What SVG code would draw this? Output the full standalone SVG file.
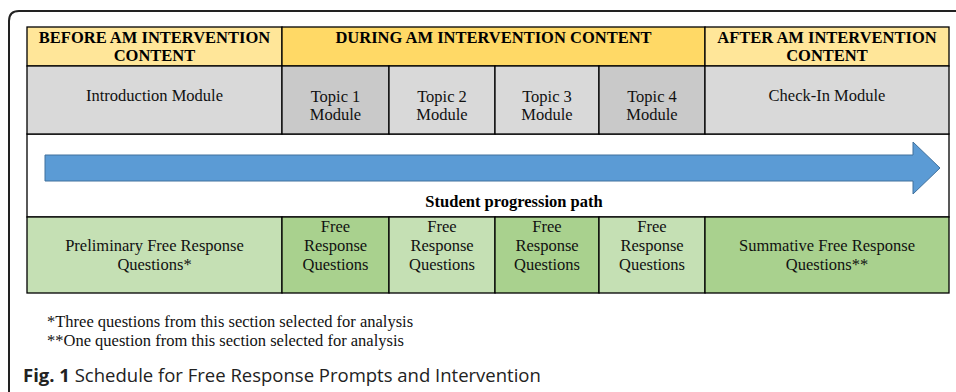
<svg xmlns="http://www.w3.org/2000/svg" width="956" height="392" viewBox="0 0 956 392">
<style>
.cell{stroke:#000;stroke-width:1.3}
.hy1{fill:#FFE699}
.hy2{fill:#FFD966}
.g1{fill:#D9D9D9}
.g2{fill:#C9C9C9}
.gr1{fill:#C5E0B4}
.gr2{fill:#A9D18E}
.h{font-family:"Liberation Serif","Times New Roman",serif;font-weight:bold;font-size:16.5px;fill:#000;text-anchor:middle}
.t{font-family:"Liberation Serif","Times New Roman",serif;font-size:16.5px;fill:#111;text-anchor:middle}
.fn{font-family:"Liberation Serif","Times New Roman",serif;font-size:16.5px;fill:#111}
.cap{font-family:"Open Sans","Noto Sans",sans-serif;font-size:18.5px;fill:#222}
</style>
<rect width="956" height="392" fill="#fff"/>
<path d="M9,392 V21 Q9,11 19,11 H956" fill="none" stroke="#222" stroke-width="2"/>
<g id="middle-band"><rect x="27" y="134" width="922" height="83" fill="#fff" class="cell"/></g>
<g id="hdr-before"><rect x="27" y="27" width="255" height="39" class="cell hy1"/><text class="h" x="154.5" y="43">BEFORE AM INTERVENTION</text><text class="h" x="154.5" y="61">CONTENT</text></g>
<g id="hdr-during"><rect x="282" y="27" width="423" height="39" class="cell hy2"/><text class="h" x="493.5" y="43">DURING AM INTERVENTION CONTENT</text></g>
<g id="hdr-after"><rect x="705" y="27" width="244" height="39" class="cell hy1"/><text class="h" x="827" y="43">AFTER AM INTERVENTION</text><text class="h" x="827" y="61">CONTENT</text></g>
<g id="mod-intro"><rect x="27" y="66" width="255" height="68" class="cell g1"/><text class="t" x="154.5" y="101">Introduction Module</text></g>
<g id="mod-topic1"><rect x="282" y="66" width="107" height="68" class="cell g2"/><text class="t" x="335.5" y="102">Topic 1</text><text class="t" x="335.5" y="120">Module</text></g>
<g id="mod-topic2"><rect x="389" y="66" width="106" height="68" class="cell g1"/><text class="t" x="442" y="102">Topic 2</text><text class="t" x="442" y="120">Module</text></g>
<g id="mod-topic3"><rect x="495" y="66" width="104" height="68" class="cell g1"/><text class="t" x="547" y="102">Topic 3</text><text class="t" x="547" y="120">Module</text></g>
<g id="mod-topic4"><rect x="599" y="66" width="106" height="68" class="cell g2"/><text class="t" x="652" y="102">Topic 4</text><text class="t" x="652" y="120">Module</text></g>
<g id="mod-checkin"><rect x="705" y="66" width="244" height="68" class="cell g1"/><text class="t" x="827" y="101">Check-In Module</text></g>
<g id="connectors">
<path d="M45,155 H913 V142 L940,168 L913,194 V181 H45 Z" fill="#5B9BD5" stroke="#41719C" stroke-width="1"/>
<text class="h" x="514" y="207">Student progression path</text>
</g>
<g id="q-prelim"><rect x="27" y="217" width="255" height="76" class="cell gr1"/><text class="t" x="154.5" y="251">Preliminary Free Response</text><text class="t" x="154.5" y="270">Questions*</text></g>
<g id="q-topic1"><rect x="282" y="217" width="107" height="76" class="cell gr2"/><text class="t" x="335.5" y="232">Free</text><text class="t" x="335.5" y="251">Response</text><text class="t" x="335.5" y="270">Questions</text></g>
<g id="q-topic2"><rect x="389" y="217" width="106" height="76" class="cell gr1"/><text class="t" x="442" y="232">Free</text><text class="t" x="442" y="251">Response</text><text class="t" x="442" y="270">Questions</text></g>
<g id="q-topic3"><rect x="495" y="217" width="104" height="76" class="cell gr2"/><text class="t" x="547" y="232">Free</text><text class="t" x="547" y="251">Response</text><text class="t" x="547" y="270">Questions</text></g>
<g id="q-topic4"><rect x="599" y="217" width="106" height="76" class="cell gr1"/><text class="t" x="652" y="232">Free</text><text class="t" x="652" y="251">Response</text><text class="t" x="652" y="270">Questions</text></g>
<g id="q-summative"><rect x="705" y="217" width="244" height="76" class="cell gr2"/><text class="t" x="827" y="251">Summative Free Response</text><text class="t" x="827" y="270">Questions**</text></g>
<g id="footnotes">
<text class="fn" x="47" y="327">*Three questions from this section selected for analysis</text>
<text class="fn" x="47" y="346">**One question from this section selected for analysis</text>
</g>
<g id="caption"><text class="cap" x="23" y="382"><tspan font-weight="bold">Fig. 1</tspan> Schedule for Free Response Prompts and Intervention</text></g>
</svg>
